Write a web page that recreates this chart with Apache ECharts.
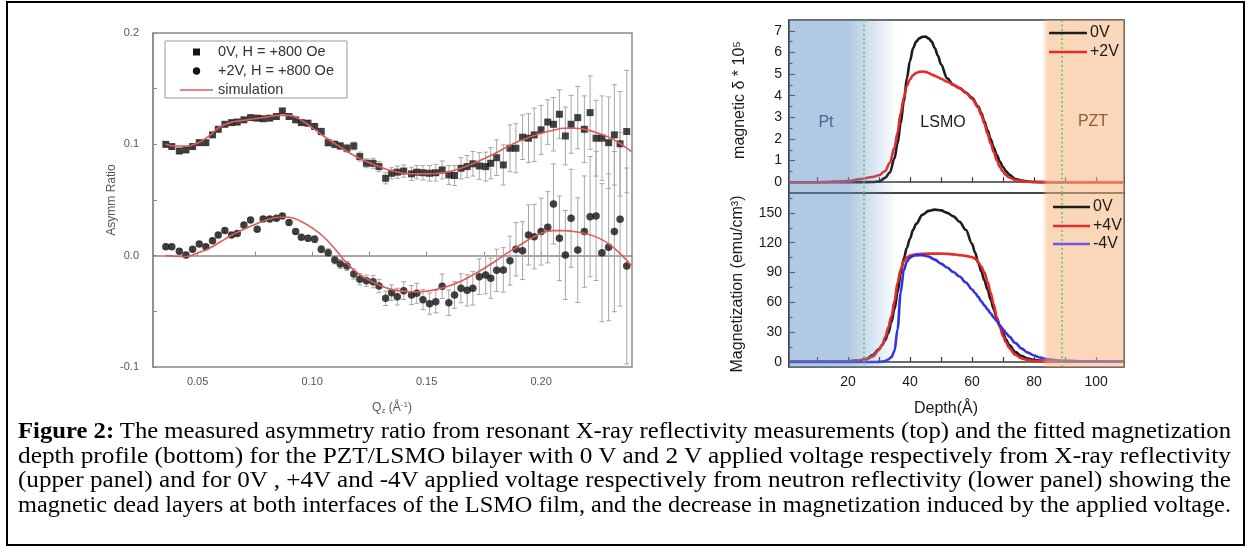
<!DOCTYPE html>
<html>
<head>
<meta charset="utf-8">
<script src="https://cdn.jsdelivr.net/npm/echarts@6/dist/echarts.min.js"></script>
<style>
  html, body { margin: 0; padding: 0; background: #fff; }
  #page { position: relative; width: 1249px; height: 548px; overflow: hidden; background: #fff; }
  #frame { position: absolute; left: 6px; top: 1px; width: 1239px; height: 545px; border: 2px solid #000; box-sizing: border-box; }
  #asym { position: absolute; left: 0; top: 0; width: 1249px; height: 420px; filter: blur(0.6px); }
  #profile { position: absolute; left: 0; top: 0; width: 1249px; height: 420px; }
  #caption { position: absolute; left: 18px; top: 419px; width: 1213px;
    font-family: "Liberation Serif", "Times New Roman", serif; font-size: 23px; line-height: 24.7px; color: #000; }
  #caption div { white-space: nowrap; width: max-content; transform-origin: 0 0; }
</style>
</head>
<body>
<div id="page">
  <div id="frame"></div>
  <div id="asym"></div>
  <div id="profile"></div>
  <div id="caption">
    <div><b>Figure 2:</b> The measured asymmetry ratio from resonant X-ray reflectivity measurements (top) and the fitted magnetization</div>
    <div>depth profile (bottom) for the PZT/LSMO bilayer with 0 V and 2 V applied voltage respectively from X-ray reflectivity</div>
    <div>(upper panel) and for 0V , +4V and -4V applied voltage respectively from neutron reflectivity (lower panel) showing the</div>
    <div>magnetic dead layers at both interfaces of the LSMO film, and the decrease in magnetization induced by the applied voltage.</div>
  </div>
</div>
<script>
// ---------- Asymmetry ratio vs Qz (resonant X-ray reflectivity) ----------
const qMeas = [0.0361, 0.0387, 0.0420, 0.0449, 0.0478, 0.0507, 0.0536, 0.0565, 0.0590, 0.0619,
  0.0648, 0.0673, 0.0702, 0.0731, 0.0760, 0.0786, 0.0815, 0.0844, 0.0870, 0.0899,
  0.0928, 0.0953, 0.0982, 0.1011, 0.1040, 0.1070, 0.1099, 0.1123, 0.1152, 0.1182,
  0.1208, 0.1237, 0.1266, 0.1292, 0.1321, 0.1347, 0.1372, 0.1400, 0.1434, 0.1457,
  0.1484, 0.1513, 0.1540, 0.1568, 0.1597, 0.1622, 0.1650, 0.1677, 0.1702, 0.1730,
  0.1758, 0.1780, 0.1806, 0.1835, 0.1864, 0.1890, 0.1919, 0.1945, 0.1970, 0.2000,
  0.2029, 0.2054, 0.2080, 0.2106, 0.2131, 0.2160, 0.2189, 0.2214, 0.2240, 0.2266,
  0.2295, 0.2320, 0.2345, 0.2374];

// 0V, H = +800 Oe
const asym0V = [0.1000, 0.0980, 0.0940, 0.0950, 0.0980, 0.1015, 0.1015, 0.1085, 0.1135, 0.1180,
  0.1195, 0.1200, 0.1220, 0.1240, 0.1235, 0.1230, 0.1235, 0.1250, 0.1300, 0.1250,
  0.1220, 0.1195, 0.1190, 0.1160, 0.1115, 0.1015, 0.1000, 0.0985, 0.0965, 0.0985,
  0.0890, 0.0830, 0.0830, 0.0800, 0.0695, 0.0740, 0.0750, 0.0760, 0.0735, 0.0750,
  0.0745, 0.0740, 0.0745, 0.0770, 0.0725, 0.0720, 0.0785, 0.0800, 0.0825, 0.0806,
  0.0800, 0.0830, 0.0880, 0.0815, 0.0965, 0.0965, 0.1064, 0.1055, 0.1085, 0.1130,
  0.1200, 0.1180, 0.1270, 0.1075, 0.1180, 0.1240, 0.1135, 0.1285, 0.1055, 0.1055,
  0.1015, 0.1085, 0.1005, 0.1115];
const err0V = [0.002, 0.002, 0.002, 0.002, 0.002, 0.002, 0.002, 0.002, 0.002, 0.002,
  0.002, 0.002, 0.002, 0.002, 0.002, 0.002, 0.002, 0.002, 0.002, 0.002,
  0.002, 0.002, 0.0025, 0.0025, 0.003, 0.003, 0.003, 0.003, 0.0035, 0.0035,
  0.004, 0.004, 0.0045, 0.0045, 0.005, 0.005, 0.0055, 0.0055, 0.006, 0.006,
  0.0065, 0.007, 0.0075, 0.008, 0.0085, 0.009, 0.0095, 0.010, 0.011, 0.012,
  0.013, 0.014, 0.016, 0.018, 0.021, 0.022, 0.020, 0.022, 0.024, 0.022,
  0.020, 0.024, 0.022, 0.026, 0.026, 0.028, 0.030, 0.033, 0.034, 0.038,
  0.041, 0.045, 0.047, 0.055];

// +2V, H = +800 Oe
const asym2V = [0.0080, 0.0080, 0.0040, 0.0006, 0.0057, 0.0105, 0.0080, 0.0135, 0.0186, 0.0225,
  0.0186, 0.0200, 0.0276, 0.0320, 0.0237, 0.0330, 0.0330, 0.0336, 0.0357, 0.0297,
  0.0216, 0.0165, 0.0156, 0.0147, 0.0057, 0.0027, -0.0039, -0.0075, -0.0093, -0.0165,
  -0.0212, -0.0225, -0.0234, -0.0272, -0.0383, -0.0332, -0.0368, -0.0314, -0.0353, -0.0338,
  -0.0395, -0.0431, -0.0413, -0.0275, -0.0423, -0.0353, -0.0293, -0.0311, -0.0293, -0.0189,
  -0.0173, -0.0203, -0.0132, -0.0128, -0.0045, 0.0057, 0.0045, 0.0186, 0.0171, 0.0216,
  0.0255, 0.0464, 0.0156, 0.0006, 0.0336, 0.0050, 0.0216, 0.0350, 0.0357, 0.0027,
  0.0075, 0.0216, 0.0327, -0.0093];
const err2V = [0.002, 0.002, 0.002, 0.002, 0.002, 0.002, 0.002, 0.002, 0.002, 0.002,
  0.002, 0.002, 0.002, 0.002, 0.002, 0.002, 0.002, 0.002, 0.002, 0.002,
  0.002, 0.002, 0.0025, 0.003, 0.003, 0.0035, 0.0035, 0.004, 0.004, 0.0045,
  0.005, 0.005, 0.0055, 0.006, 0.0065, 0.007, 0.0075, 0.008, 0.0085, 0.009,
  0.009, 0.0095, 0.010, 0.011, 0.0115, 0.012, 0.013, 0.014, 0.015, 0.016,
  0.017, 0.018, 0.019, 0.020, 0.022, 0.024, 0.026, 0.027, 0.029, 0.030,
  0.032, 0.036, 0.038, 0.040, 0.044, 0.047, 0.050, 0.054, 0.058, 0.062,
  0.066, 0.072, 0.078, 0.088];

// simulation curves
const qSim = [0.036, 0.040, 0.045, 0.050, 0.055, 0.060, 0.065, 0.070, 0.075, 0.080,
  0.085, 0.090, 0.095, 0.100, 0.105, 0.110, 0.115, 0.120, 0.125, 0.130,
  0.135, 0.140, 0.145, 0.150, 0.155, 0.160, 0.165, 0.170, 0.175, 0.180,
  0.185, 0.190, 0.195, 0.200, 0.205, 0.210, 0.215, 0.220, 0.225, 0.230,
  0.235, 0.2395];
const sim0V = [0.1000, 0.0985, 0.0985, 0.1010, 0.1075, 0.1160, 0.1200, 0.1215, 0.1230, 0.1245,
  0.1260, 0.1260, 0.1220, 0.1150, 0.1075, 0.1005, 0.0940, 0.0880, 0.0835, 0.0795,
  0.0760, 0.0740, 0.0735, 0.0735, 0.0740, 0.0755, 0.0785, 0.0825, 0.0870, 0.0920,
  0.0975, 0.1025, 0.1065, 0.1100, 0.1125, 0.1145, 0.1145, 0.1130, 0.1100, 0.1060,
  0.1000, 0.0935];
const sim2V = [0.0000, -0.0005, -0.0008, 0.0025, 0.0065, 0.0125, 0.0186, 0.0235, 0.0280, 0.0320,
  0.0345, 0.0345, 0.0310, 0.0250, 0.0170, 0.0060, -0.0065, -0.0160, -0.0220, -0.0270,
  -0.0305, -0.0320, -0.0325, -0.0320, -0.0300, -0.0270, -0.0230, -0.0175, -0.0115, -0.0050,
  0.0020, 0.0085, 0.0150, 0.0200, 0.0225, 0.0225, 0.0215, 0.0195, 0.0160, 0.0100,
  0.0010, -0.0090];

const qTickValues = [0.05, 0.075, 0.10, 0.125, 0.15, 0.175, 0.20, 0.225];
const qLabelValues = [0.05, 0.10, 0.15, 0.20];
const asymLegend = ['0V, H = +800 Oe', '+2V, H = +800 Oe', 'simulation'];

// ---------- Depth profiles ----------
const depthX = [1, 10, 20, 24, 28, 30, 32, 33.5, 35, 36,
  37, 38, 39, 40, 41, 42, 43, 44, 45, 46,
  47, 48, 49, 50, 52, 54, 56, 58, 60, 62,
  63, 64, 65, 66, 67, 68, 69, 70, 71, 72,
  74, 76, 78, 80, 85, 90, 100, 109];
const delta0V = [0, 0, 0, 0, 0.01, 0.03, 0.2, 0.45, 1.1, 1.8,
  2.7, 3.7, 4.8, 5.6, 6.2, 6.5, 6.65, 6.72, 6.73, 6.65,
  6.5, 6.2, 5.85, 5.45, 4.8, 4.5, 4.35, 4.15, 3.9, 3.5,
  3.2, 2.8, 2.4, 2.0, 1.6, 1.25, 0.95, 0.7, 0.5, 0.35,
  0.15, 0.07, 0.03, 0.01, 0, 0, 0, 0];
const delta2V = [0, 0, 0.05, 0.14, 0.24, 0.32, 0.52, 0.9, 1.6, 2.3,
  3.2, 3.9, 4.45, 4.75, 4.95, 5.05, 5.1, 5.12, 5.1, 5.05,
  4.98, 4.92, 4.85, 4.78, 4.65, 4.5, 4.35, 4.15, 3.85, 3.45,
  3.1, 2.7, 2.25, 1.8, 1.4, 1.0, 0.7, 0.48, 0.32, 0.22,
  0.1, 0.05, 0.02, 0.01, 0, 0, 0, 0];

const depthN = [1, 10, 20, 24, 26, 28, 30, 31, 32, 33,
  34, 35, 36, 37, 38, 39, 40, 41, 42,
  44, 46, 48, 50, 52, 54, 56, 58, 60,
  61, 62, 63, 64, 65, 66, 67, 68, 69, 70, 71, 72,
  74, 76, 78, 80, 82, 84, 88, 95, 109];
const mag0V = [0.5, 0.5, 0.8, 1.8, 3.2, 7, 13, 17, 22, 29,
  40, 53, 70, 89, 104, 115, 124, 133, 139,
  148, 152, 153.3, 152.5, 150, 146.5, 141, 133, 119,
  110, 100, 91, 82, 73, 63, 53, 44, 36, 29, 22.5, 17,
  10, 6, 3.5, 2.2, 1.5, 1.0, 0.7, 0.5, 0.5];
const magP4V = [0.5, 0.5, 0.8, 1.8, 3, 5.5, 12, 17, 25, 35,
  46, 61, 80, 93, 101.5, 105, 107, 107.8, 108.3,
  108.8, 109, 109, 109, 108.8, 108.3, 107.5, 106.8, 105.5,
  104, 100.5, 96, 90, 81, 70, 58, 45, 35, 26, 19.5, 14,
  7, 3.5, 2, 1.2, 0.8, 0.6, 0.5, 0.5, 0.5];
const magM4V = [0, 0, 0, 0, 0, 0, 0.2, 0.5, 1, 2.5,
  5, 11, 33, 70, 92, 101, 105, 106.8, 107.3,
  107.5, 106, 103, 99, 95, 90.5, 86, 80, 73,
  69.5, 65.5, 61, 57, 53, 49, 45, 41, 37, 33, 29, 25.5,
  19, 13.5, 9.5, 6.5, 4.5, 3, 1.6, 0.8, 0.5];

const interfaceDepths = [25, 89];          // Pt/LSMO and LSMO/PZT interfaces
const layerBands = [[1, 36, 0], [82.5, 109, 1]]; // Pt (fading), PZT
const depthLabelValues = [20, 40, 60, 80, 100];
const depthTickValues = [10, 20, 30, 40, 50, 60, 70, 80, 90, 100];
const deltaLabelValues = [0, 1, 2, 3, 4, 5, 6, 7];
const deltaMinorValues = [0.5, 1.5, 2.5, 3.5, 4.5, 5.5, 6.5];
const magLabelValues = [0, 30, 60, 90, 120, 150];
const magMinorValues = [15, 45, 75, 105, 135, 165];
const xrayLegend = ['0V', '+2V'];
const neutronLegend = ['0V', '+4V', '-4V'];

const zip = (xs, ys) => xs.map((x, i) => [x, ys[i]]);
const zip3 = (xs, ys, es) => xs.map((x, i) => [x, ys[i], es[i]]);

// ================= Left panel =================
const gray = '#8a8a8a';
const asymChart = echarts.init(document.getElementById('asym'), null, { renderer: 'canvas' });

function errorBarItem(params, api) {
  const x = api.value(0), y = api.value(1), e = api.value(2);
  const hi = api.coord([x, y + e]);
  const lo = api.coord([x, y - e]);
  const w = 2.5;
  const st = { stroke: '#a6a6a6', lineWidth: 1 };
  return {
    type: 'group',
    children: [
      { type: 'line', shape: { x1: hi[0], y1: hi[1], x2: lo[0], y2: lo[1] }, style: st },
      { type: 'line', shape: { x1: hi[0] - w, y1: hi[1], x2: hi[0] + w, y2: hi[1] }, style: st },
      { type: 'line', shape: { x1: lo[0] - w, y1: lo[1], x2: lo[0] + w, y2: lo[1] }, style: st }
    ]
  };
}

asymChart.setOption({
  animation: false,
  textStyle: { fontFamily: 'Liberation Sans, Arial, sans-serif' },
  grid: { left: 153, top: 33, width: 479, height: 334, show: true, borderColor: gray, borderWidth: 1.5 },
  xAxis: {
    type: 'value', min: 0.0305, max: 0.2397,
    axisLine: { lineStyle: { color: gray, width: 1.5 } },
    axisTick: { inside: true, length: 4, customValues: qTickValues, lineStyle: { color: gray } },
    axisLabel: { customValues: qLabelValues, formatter: v => v.toFixed(2), color: '#555', fontSize: 11, margin: 9 },
    splitLine: { show: false }
  },
  yAxis: {
    type: 'value', min: -0.1, max: 0.2, interval: 0.1,
    axisLine: { show: true, lineStyle: { color: gray, width: 1.5 } },
    axisTick: { inside: true, length: 4, lineStyle: { color: gray } },
    minorTick: { show: true, splitNumber: 2, length: 4, lineStyle: { color: gray } },
    axisLabel: { formatter: v => (Math.abs(v) < 1e-9 ? '0.0' : v.toFixed(1)), color: '#555', fontSize: 11, margin: 14 },
    splitLine: { show: false }
  },
  series: [
    { type: 'custom', renderItem: errorBarItem, data: zip3(qMeas, asym0V, err0V), encode: { x: 0, y: 1 }, z: 1, silent: true },
    { type: 'custom', renderItem: errorBarItem, data: zip3(qMeas, asym2V, err2V), encode: { x: 0, y: 1 }, z: 1, silent: true },
    { name: asymLegend[0], type: 'scatter', data: zip(qMeas, asym0V), symbol: 'rect', symbolSize: 7,
      itemStyle: { color: '#141414' }, z: 2 },
    { name: asymLegend[1], type: 'scatter', data: zip(qMeas, asym2V), symbol: 'circle', symbolSize: 7.5,
      itemStyle: { color: '#141414' }, z: 2 },
    { name: asymLegend[2], type: 'line', data: zip(qSim, sim0V), smooth: 0.4, showSymbol: false,
      lineStyle: { color: '#e05a5a', width: 1.6 }, z: 3 },
    { name: asymLegend[2], type: 'line', data: zip(qSim, sim2V), smooth: 0.4, showSymbol: false,
      lineStyle: { color: '#e05a5a', width: 1.6 }, z: 3 }
  ],
  graphic: [
    { type: 'rect', shape: { x: 165, y: 41, width: 182, height: 57 }, style: { fill: '#fff', stroke: '#9a9a9a', lineWidth: 1 }, z: 10 },
    { type: 'rect', shape: { x: 193, y: 48.5, width: 7, height: 7 }, style: { fill: '#141414' }, z: 11 },
    { type: 'circle', shape: { cx: 196.5, cy: 71, r: 3.7 }, style: { fill: '#141414' }, z: 11 },
    { type: 'line', shape: { x1: 180, y1: 90, x2: 213, y2: 90 }, style: { stroke: '#e05a5a', lineWidth: 1.6 }, z: 11 },
    { type: 'text', x: 218, y: 52, style: { text: asymLegend[0], fontSize: 14.5, fill: '#333', verticalAlign: 'middle', fontFamily: 'Liberation Sans, Arial' }, z: 11 },
    { type: 'text', x: 218, y: 71, style: { text: asymLegend[1], fontSize: 14.5, fill: '#333', verticalAlign: 'middle', fontFamily: 'Liberation Sans, Arial' }, z: 11 },
    { type: 'text', x: 218, y: 90, style: { text: asymLegend[2], fontSize: 14.5, fill: '#333', verticalAlign: 'middle', fontFamily: 'Liberation Sans, Arial' }, z: 11 },
    { type: 'text', x: 112, y: 200, rotation: Math.PI / 2,
      style: { text: 'Asymm Ratio', fontSize: 12, fill: '#555', align: 'center', verticalAlign: 'middle', fontFamily: 'Liberation Sans, Arial' } },
    { type: 'text', x: 392, y: 408,
      style: { text: '{n|Q}{s|z}{n| (Å}{p|-1}{n|)}', align: 'center', verticalAlign: 'middle', fontFamily: 'Liberation Sans, Arial',
        rich: { n: { fontSize: 12, fill: '#555' }, s: { fontSize: 8, fill: '#555', verticalAlign: 'bottom', padding: [6, 0, 0, 0] },
                p: { fontSize: 8, fill: '#555', verticalAlign: 'top', padding: [0, 0, 6, 0] } } } }
  ]
});

// ================= Right panels =================
const profChart = echarts.init(document.getElementById('profile'), null, { renderer: 'canvas' });
const dark = '#3a3a3a';
const lblStyle = { color: '#1a1a1a', fontSize: 14 };
const ptStops = [
  { offset: 0, color: 'rgba(100,148,200,0.5)' },
  { offset: 0.54, color: 'rgba(100,148,200,0.5)' },
  { offset: 1, color: 'rgba(100,148,200,0)' }
];
const pztStops = [
  { offset: 0, color: 'rgba(246,182,128,0)' },
  { offset: 0.07, color: 'rgba(246,182,128,0.55)' },
  { offset: 1, color: 'rgba(246,182,128,0.55)' }
];
function bandItem(params, api) {
  const cs = params.coordSys;
  const x0 = api.coord([api.value(0), 0])[0];
  const x1 = api.coord([api.value(1), 0])[0];
  const stops = api.value(2) === 0 ? ptStops : pztStops;
  return {
    type: 'rect',
    shape: { x: x0, y: cs.y, width: x1 - x0, height: cs.height },
    style: { fill: new echarts.graphic.LinearGradient(0, 0, 1, 0, stops) }
  };
}
function depthAxis(gridIndex, showLabels) {
  return {
    type: 'value', gridIndex, min: 1, max: 109,
    axisLine: { lineStyle: { color: dark, width: 1.5 } },
    axisTick: { inside: true, length: 5, customValues: depthTickValues, lineStyle: { color: dark, width: 1.2 } },
    axisLabel: { show: showLabels, customValues: depthLabelValues, margin: 8, ...lblStyle },
    splitLine: { show: false }
  };
}
function valueAxis(gridIndex, min, max, labels) {
  return {
    type: 'value', gridIndex, min, max, position: 'left',
    axisLine: { show: true, lineStyle: { color: dark, width: 1.5 } },
    axisTick: { inside: true, length: 6, customValues: labels, lineStyle: { color: dark, width: 1.2 } },
    axisLabel: { customValues: labels, margin: 7, ...lblStyle },
    splitLine: { show: false }
  };
}
function minorAxis(gridIndex, min, max, values) {
  return {
    type: 'value', gridIndex, min, max, position: 'left',
    axisLine: { show: false },
    axisTick: { show: true, inside: true, length: 3.5, customValues: values, lineStyle: { color: dark, width: 1.2 } },
    axisLabel: { show: false },
    splitLine: { show: false }
  };
}
function curve(name, xs, ys, color, xi) {
  return { name, type: 'line', xAxisIndex: xi, yAxisIndex: xi, data: zip(xs, ys), smooth: 0.35, smoothMonotone: 'x',
    showSymbol: false, lineStyle: { color, width: 2.6 }, z: 2 };
}
function interfaceLines(xi) {
  return { type: 'line', xAxisIndex: xi, yAxisIndex: xi, data: [], z: 6,
    markLine: { silent: true, symbol: ['none', 'none'], label: { show: false },
      lineStyle: { color: '#62c95a', type: [2, 2.5], width: 1.6 },
      data: interfaceDepths.map(d => ({ xAxis: d })) } };
}
const black = '#1c1c1c', red = '#e52a2a', blue = '#2f33e0';

profChart.setOption({
  animation: false,
  textStyle: { fontFamily: 'Liberation Sans, Arial, sans-serif' },
  grid: [
    { left: 789, top: 20, width: 335, height: 173, show: true, borderColor: dark, borderWidth: 1.5 },
    { left: 789, top: 193, width: 335, height: 174, show: true, borderColor: dark, borderWidth: 1.5 }
  ],
  xAxis: [depthAxis(0, false), depthAxis(1, true)],
  yAxis: [
    valueAxis(0, -0.5, 7.5, deltaLabelValues),
    valueAxis(1, -5, 170, magLabelValues),
    minorAxis(0, -0.5, 7.5, deltaMinorValues),
    minorAxis(1, -5, 170, magMinorValues)
  ],
  series: [
    curve(xrayLegend[0], depthX, delta0V, black, 0),
    curve(xrayLegend[1], depthX, delta2V, red, 0),
    curve(neutronLegend[0], depthN, mag0V, black, 1),
    curve(neutronLegend[1], depthN, magP4V, red, 1),
    curve(neutronLegend[2], depthN, magM4V, blue, 1),
    { type: 'custom', xAxisIndex: 0, yAxisIndex: 0, renderItem: bandItem, data: layerBands, z: 4, silent: true },
    { type: 'custom', xAxisIndex: 1, yAxisIndex: 1, renderItem: bandItem, data: layerBands, z: 4, silent: true },
    interfaceLines(0),
    interfaceLines(1)
  ],
  graphic: [
    // layer names
    { type: 'text', x: 826, y: 123, z: 50, style: { text: 'Pt', fontSize: 16, fill: '#45668f', align: 'center', verticalAlign: 'middle', fontFamily: 'Liberation Sans, Arial' } },
    { type: 'text', x: 943, y: 123, z: 50, style: { text: 'LSMO', fontSize: 16, fill: '#1a1a1a', align: 'center', verticalAlign: 'middle', fontFamily: 'Liberation Sans, Arial' } },
    { type: 'text', x: 1093, y: 122, z: 50, style: { text: 'PZT', fontSize: 16, fill: '#8c5e3c', align: 'center', verticalAlign: 'middle', fontFamily: 'Liberation Sans, Arial' } },
    // legends
    { type: 'line', z: 50, shape: { x1: 1049, y1: 33, x2: 1087, y2: 33 }, style: { stroke: black, lineWidth: 2.6 } },
    { type: 'line', z: 50, shape: { x1: 1049, y1: 52, x2: 1087, y2: 52 }, style: { stroke: red, lineWidth: 2.6 } },
    { type: 'text', z: 50, x: 1090, y: 33, style: { text: xrayLegend[0], fontSize: 16, fill: '#1a1a1a', verticalAlign: 'middle', fontFamily: 'Liberation Sans, Arial' } },
    { type: 'text', z: 50, x: 1090, y: 52, style: { text: xrayLegend[1], fontSize: 16, fill: '#1a1a1a', verticalAlign: 'middle', fontFamily: 'Liberation Sans, Arial' } },
    { type: 'line', z: 50, shape: { x1: 1053, y1: 207, x2: 1090, y2: 207 }, style: { stroke: black, lineWidth: 2.6 } },
    { type: 'line', z: 50, shape: { x1: 1053, y1: 226, x2: 1090, y2: 226 }, style: { stroke: red, lineWidth: 2.6 } },
    { type: 'line', z: 50, shape: { x1: 1053, y1: 244, x2: 1090, y2: 244 }, style: { stroke: '#6a5ad8', lineWidth: 2.6 } },
    { type: 'text', z: 50, x: 1093, y: 207, style: { text: neutronLegend[0], fontSize: 16, fill: '#1a1a1a', verticalAlign: 'middle', fontFamily: 'Liberation Sans, Arial' } },
    { type: 'text', z: 50, x: 1093, y: 226, style: { text: neutronLegend[1], fontSize: 16, fill: '#1a1a1a', verticalAlign: 'middle', fontFamily: 'Liberation Sans, Arial' } },
    { type: 'text', z: 50, x: 1093, y: 244, style: { text: neutronLegend[2], fontSize: 16, fill: '#1a1a1a', verticalAlign: 'middle', fontFamily: 'Liberation Sans, Arial' } },
    // axis titles
    { type: 'text', x: 740, y: 100, rotation: Math.PI / 2,
      style: { text: 'magnetic δ * 10⁵', fontSize: 16, fill: '#1a1a1a', align: 'center', verticalAlign: 'middle', fontFamily: 'Liberation Sans, Arial' } },
    { type: 'text', x: 738, y: 284, rotation: Math.PI / 2,
      style: { text: 'Magnetization (emu/cm³)', fontSize: 16, fill: '#1a1a1a', align: 'center', verticalAlign: 'middle', fontFamily: 'Liberation Sans, Arial' } },
    { type: 'text', x: 946, y: 409,
      style: { text: 'Depth(Å)', fontSize: 16, fill: '#1a1a1a', align: 'center', verticalAlign: 'middle', fontFamily: 'Liberation Sans, Arial' } }
  ]
});

// ================= Caption: stretch each line across the column =================
const captionWidth = 1213;
document.querySelectorAll('#caption div').forEach(line => {
  const w = line.getBoundingClientRect().width;
  if (w > 0) line.style.transform = 'scaleX(' + (captionWidth / w) + ')';
});
</script>
</body>
</html>
